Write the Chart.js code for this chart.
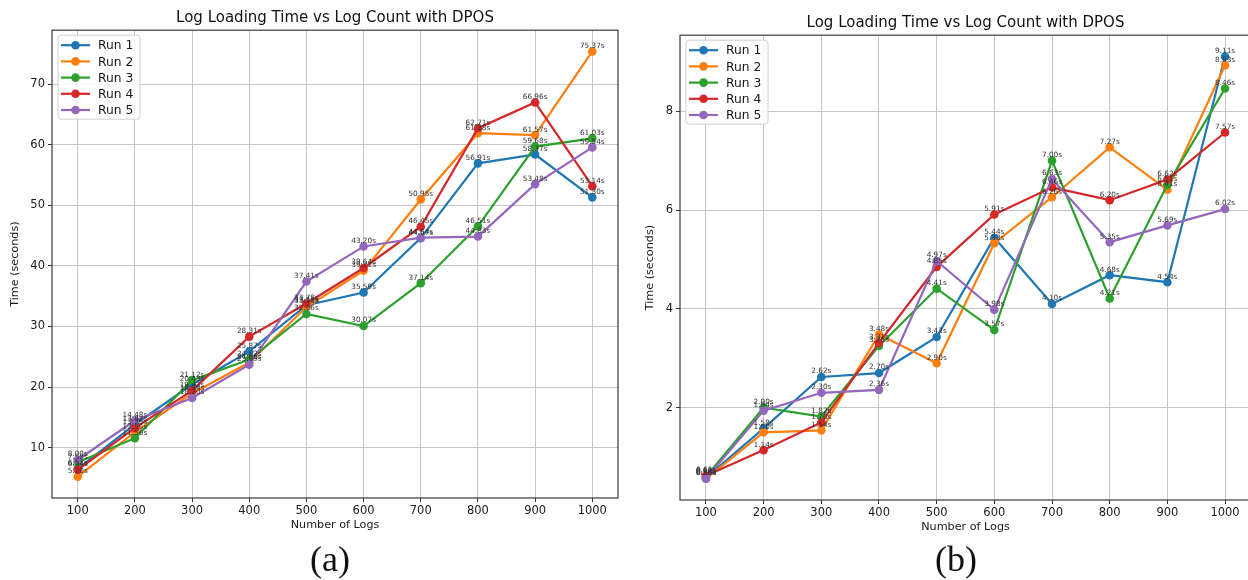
<!DOCTYPE html>
<html>
<head>
<meta charset="utf-8">
<script src="https://cdn.jsdelivr.net/npm/chart.js@4.4.1/dist/chart.umd.min.js"></script>
<style>
  html, body { margin: 0; padding: 0; background: #fff; width: 1248px; height: 580px; overflow: hidden; }
  canvas { position: absolute; top: 0; }
  #chartA { left: 0; }
  #chartB { left: 628px; }
  .tag { position: absolute; top: 538px; font-family: "Liberation Serif", serif; font-size: 36px; color: #111; transform: translateX(-50%); }
</style>
</head>
<body>
<canvas id="chartA" width="624" height="540"></canvas>
<canvas id="chartB" width="632" height="540"></canvas>
<div class="tag" style="left:330px">(a)</div>
<div class="tag" style="left:956px">(b)</div>
<script>
// x categories (number of logs) and tick values
const logCounts = [100, 200, 300, 400, 500, 600, 700, 800, 900, 1000];
const runNames = ['Run 1', 'Run 2', 'Run 3', 'Run 4', 'Run 5'];
const runColors = ['#1f77b4', '#ff7f0e', '#2ca02c', '#d62728', '#9467bd'];
const yTicksA = [10, 20, 30, 40, 50, 60, 70];
const yTicksB = [2, 4, 6, 8];

// (a) loading time, seconds
const runA1 = [6.51, 13.82, 20.43, 25.87, 33.51, 35.59, 44.57, 56.91, 58.37, 51.30];
const runA2 = [5.20, 12.56, 18.94, 24.05, 33.20, 39.21, 50.95, 61.88, 61.57, 75.37];
const runA3 = [7.58, 11.56, 21.12, 24.52, 32.06, 30.07, 37.14, 46.51, 59.68, 61.03];
const runA4 = [6.34, 13.25, 19.42, 28.31, 33.78, 39.64, 46.45, 62.71, 66.96, 53.14];
const runA5 = [8.00, 14.48, 18.20, 23.69, 37.41, 43.20, 44.64, 44.83, 53.48, 59.54];

// (b) loading time, seconds
const runB1 = [0.58, 1.58, 2.62, 2.70, 3.43, 5.44, 4.10, 4.68, 4.54, 9.11];
const runB2 = [0.56, 1.50, 1.54, 3.48, 2.90, 5.33, 6.26, 7.27, 6.41, 8.93];
const runB3 = [0.60, 2.00, 1.82, 3.25, 4.41, 3.57, 7.00, 4.21, 6.51, 8.46];
const runB4 = [0.62, 1.14, 1.70, 3.31, 4.85, 5.91, 6.46, 6.20, 6.62, 7.57];
const runB5 = [0.56, 1.94, 2.30, 2.36, 4.97, 3.98, 6.63, 5.35, 5.69, 6.02];

const FONT = '"DejaVu Sans", sans-serif';

// point labels, frame and legend drawn on top like matplotlib
const overlayPlugin = {
    id: 'overlay',
    afterDatasetsDraw(chart) {
        const ctx = chart.ctx;
        const a = chart.chartArea;
        ctx.save();
        // spines
        ctx.strokeStyle = '#3a3a3a';
        ctx.lineWidth = 1.2;
        ctx.strokeRect(a.left, a.top, a.right - a.left, a.bottom - a.top);

        // value labels
        ctx.font = '7.3px ' + FONT;
        ctx.fillStyle = '#333';
        ctx.textAlign = 'center';
        ctx.textBaseline = 'middle';
        chart.data.datasets.forEach((ds, i) => {
            const meta = chart.getDatasetMeta(i);
            meta.data.forEach((pt, j) => {
                ctx.fillText(ds.data[j].y.toFixed(2) + 's', pt.x, pt.y - 5.5);
            });
        });

        // legend
        const lx = a.left + 6, ly = a.top + 5;
        const bw = 82, bh = 84;
        ctx.fillStyle = 'rgba(255,255,255,0.85)';
        ctx.strokeStyle = '#d0d0d0';
        ctx.lineWidth = 1;
        ctx.beginPath();
        ctx.roundRect(lx, ly, bw, bh, 3);
        ctx.fill();
        ctx.stroke();
        ctx.font = '12.3px ' + FONT;
        ctx.textAlign = 'left';
        chart.data.datasets.forEach((ds, i) => {
            const y = ly + 10 + i * 16.2;
            ctx.strokeStyle = ds.borderColor;
            ctx.lineWidth = 2.2;
            ctx.beginPath();
            ctx.moveTo(lx + 3, y);
            ctx.lineTo(lx + 32, y);
            ctx.stroke();
            ctx.fillStyle = ds.borderColor;
            ctx.beginPath();
            ctx.arc(lx + 17.5, y, 4.3, 0, Math.PI * 2);
            ctx.fill();
            ctx.fillStyle = '#1a1a1a';
            ctx.fillText(ds.label, lx + 40, y + 1);
        });
        ctx.restore();
    }
};

function makeChart(id, runs, yTicks, yMin, yMax, lay) {
    const datasets = runs.map((vals, i) => ({
        label: runNames[i],
        data: vals.map((v, j) => ({ x: logCounts[j], y: v })),
        borderColor: runColors[i],
        backgroundColor: runColors[i],
        borderWidth: 2.2,
        pointRadius: 4.3,
        pointBorderWidth: 0,
        tension: 0,
        order: runs.length - i
    }));

    return new Chart(document.getElementById(id), {
        type: 'line',
        data: { datasets },
        plugins: [overlayPlugin],
        options: {
            responsive: false,
            animation: false,
            layout: { padding: { left: lay.padLeft, right: lay.padRight, top: 0, bottom: lay.padBottom } },
            plugins: {
                legend: { display: false },
                tooltip: { enabled: false },
                title: {
                    display: true,
                    fullSize: false,
                    text: 'Log Loading Time vs Log Count with DPOS',
                    color: '#111',
                    font: { family: FONT, size: 15, weight: 'normal' },
                    padding: { top: lay.titleTop, bottom: lay.titleBottom }
                }
            },
            scales: {
                x: {
                    type: 'linear',
                    min: 55,
                    max: 1045,
                    bounds: 'data',
                    afterBuildTicks: s => { s.ticks = logCounts.map(v => ({ value: v })); },
                    afterFit: s => { s.height = 33.6; },
                    ticks: { color: '#1a1a1a', font: { family: FONT, size: 11.5 }, padding: 2, maxRotation: 0, callback: v => String(v) },
                    grid: { color: '#c6c6c6', lineWidth: 1, tickLength: 4, tickColor: '#333' },
                    border: { display: false },
                    title: { display: true, text: 'Number of Logs', color: '#1a1a1a', font: { family: FONT, size: 11.2 }, padding: 0 }
                },
                y: {
                    type: 'linear',
                    min: yMin,
                    max: yMax,
                    bounds: 'data',
                    afterBuildTicks: s => { s.ticks = yTicks.map(v => ({ value: v })); },
                    afterFit: s => { s.width = lay.axisWidth; },
                    ticks: { color: '#1a1a1a', font: { family: FONT, size: 11.5 }, padding: 3, callback: v => String(v) },
                    grid: { color: '#c6c6c6', lineWidth: 1, tickLength: 4, tickColor: '#333' },
                    border: { display: false },
                    title: { display: true, text: 'Time (seconds)', color: '#1a1a1a', font: { family: FONT, size: 11.2 }, padding: 0 }
                }
            }
        }
    });
}

makeChart('chartA', [runA1, runA2, runA3, runA4, runA5], yTicksA, 1.69, 78.88,
    { padLeft: 8.4, padRight: 6, padBottom: 8.4, axisWidth: 43.6, titleTop: 9.6, titleBottom: 2.6 });
makeChart('chartB', [runB1, runB2, runB3, runB4, runB5], yTicksB, 0.13, 9.54,
    { padLeft: 15.4, padRight: 9, padBottom: 6.4, axisWidth: 36.6, titleTop: 14.6, titleBottom: 2.6 });
</script>
</body>
</html>
